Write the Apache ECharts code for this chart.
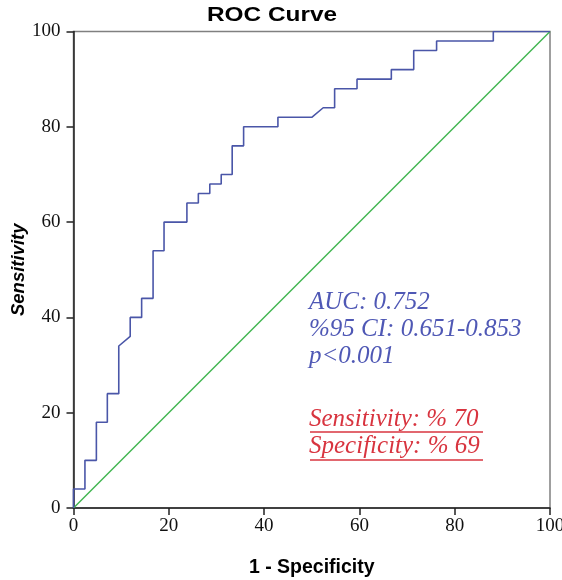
<!DOCTYPE html>
<html><head><meta charset="utf-8">
<script src="https://cdn.jsdelivr.net/npm/echarts@6/dist/echarts.min.js"></script>
<style>html,body{margin:0;padding:0;background:#fff}#c{width:562px;height:580px}</style>
</head><body><div id="c"></div>
<script>
var rocX = [0,0,2.4,2.4,4.8,4.8,7.1,7.1,9.5,9.5,11.9,11.9,14.3,14.3,16.7,16.7,19.0,19.0,23.8,23.8,26.2,26.2,28.6,28.6,31.0,31.0,33.3,33.3,35.7,35.7,42.9,42.9,50.0,52.4,54.8,54.8,59.5,59.5,66.7,66.7,71.4,71.4,76.2,76.2,88.1,88.1,100];
var rocY = [0,4,4,10,10,18,18,24,24,34,36,40,40,44,44,54,54,60,60,64,64,66,66,68,68,70,70,76,76,80,80,82,82,84,84,88,88,90,90,92,92,96,96,98,98,100,100];
var refX = [0,100];
var refY = [0,100];
var statsLines = ['AUC: 0.752','%95 CI: 0.651-0.853','p<0.001'];
var cutLines = ['Sensitivity: % 70','Specificity: % 69'];
var titleText = 'ROC Curve';
var xName = '1 - Specificity';
var yName = 'Sensitivity';

var rocData = rocX.map(function(x,i){return [x,rocY[i]];});
var refData = refX.map(function(x,i){return [x,refY[i]];});
var chart = echarts.init(document.getElementById('c'));
var serif = '"Liberation Serif","DejaVu Serif",serif';
var sans = '"Liberation Sans",Arial,sans-serif';
var graphics = [];
graphics.push({type:'text',x:272,y:6,scaleX:1.25,style:{text:titleText,font:'bold 19.5px '+sans,fill:'#000',align:'center',verticalAlign:'top'}});
statsLines.forEach(function(t,i){
  graphics.push({type:'text',left:309,top:290+i*27,style:{text:t,font:'italic 25px '+serif,fill:'#4f58b5'}});
});
cutLines.forEach(function(t,i){
  graphics.push({type:'text',left:309,top:407+i*27,style:{text:t,font:'italic 25px '+serif,fill:'#d8343f'}});
});
graphics.push({type:'line',shape:{x1:310,y1:432,x2:483,y2:432},style:{stroke:'#d8343f',lineWidth:1.3}});
graphics.push({type:'line',shape:{x1:310,y1:460,x2:483,y2:460},style:{stroke:'#d8343f',lineWidth:1.3}});
chart.setOption({
  animation:false,
  grid:{left:73.5,right:12,top:31.5,bottom:72,show:true,borderColor:'#808080',borderWidth:1.5,outerBoundsMode:'none',containLabel:false},
  xAxis:{type:'value',min:0,max:100,interval:20,
    name:xName,nameLocation:'middle',nameGap:50,nameMoveOverlap:false,
    nameTextStyle:{fontFamily:sans,fontSize:19.5,fontWeight:'bold',color:'#000'},
    axisLine:{show:true,onZero:false,lineStyle:{color:'#222',width:1.5}},
    axisTick:{show:true,length:7,lineStyle:{color:'#222',width:1.5}},
    axisLabel:{fontFamily:serif,fontSize:19,color:'#111',margin:9,showMaxLabel:true,hideOverlap:false},
    splitLine:{show:false}},
  yAxis:{type:'value',min:0,max:100,interval:20,
    name:yName,nameLocation:'middle',nameGap:45,nameMoveOverlap:false,
    nameTextStyle:{fontFamily:sans,fontSize:18.5,fontWeight:'bold',fontStyle:'italic',color:'#000'},
    axisLine:{show:true,onZero:false,lineStyle:{color:'#222',width:1.5}},
    axisTick:{show:true,length:7,lineStyle:{color:'#222',width:1.5}},
    axisLabel:{fontFamily:serif,fontSize:19,color:'#111',margin:13},
    splitLine:{show:false}},
  series:[
    {type:'line',data:refData,symbol:'none',lineStyle:{color:'#3fb54f',width:1.5},z:2},
    {type:'line',data:rocData,symbol:'none',lineStyle:{color:'#4a56a8',width:1.6},z:3}
  ],
  graphic:graphics
});
</script></body></html>
